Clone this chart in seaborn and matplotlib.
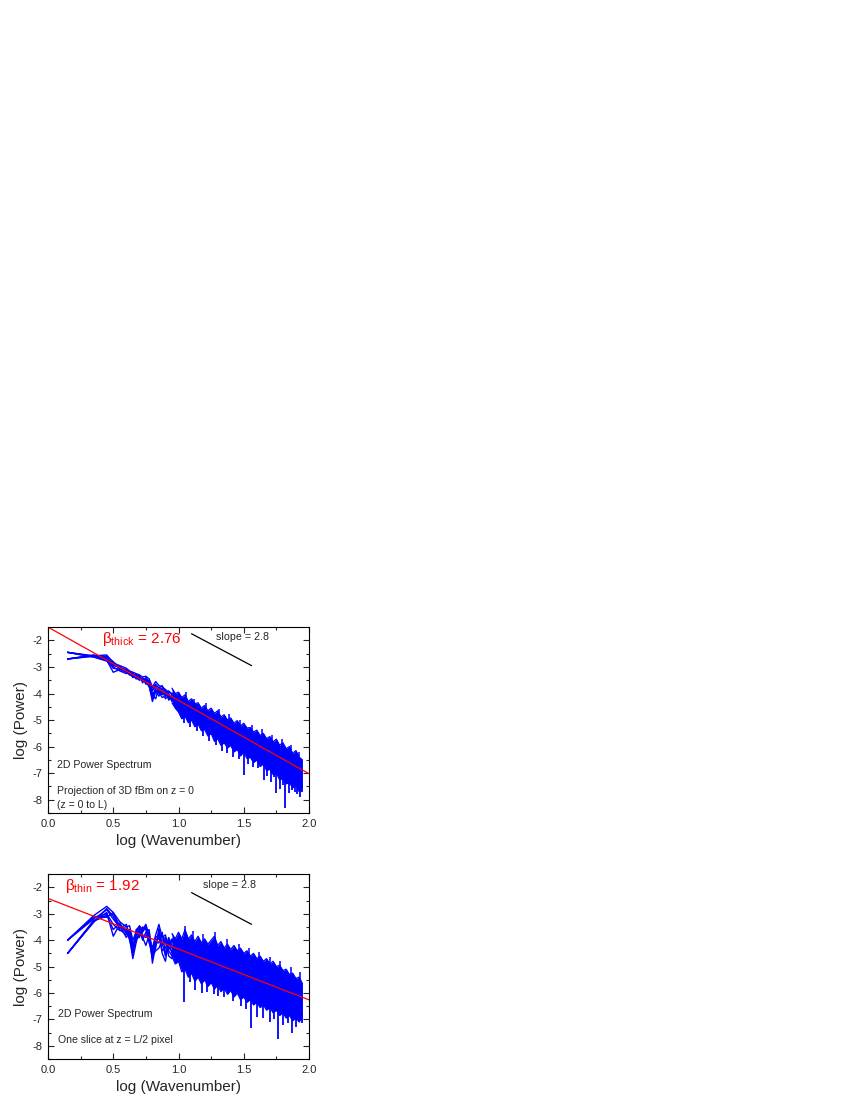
import numpy as np
import pandas as pd
import matplotlib
matplotlib.use("Agg")
import matplotlib.pyplot as plt
import seaborn as sns

# ---- data ----
x_low = [0.15, 0.35, 0.45, 0.50, 0.55, 0.60, 0.625, 0.65, 0.675, 0.70, 0.725,
         0.75, 0.775, 0.80, 0.825, 0.85, 0.875, 0.90, 0.925, 0.95, 0.975, 1.00]

thick_low = [
    [-2.45, -2.58, -2.55, -2.85, -2.95, -3.05, -3.15, -3.20, -3.25, -3.30, -3.38, -3.35, -3.45, -3.75, -3.55, -3.70, -3.75, -3.85, -3.95, -4.00, -4.05, -4.15],
    [-2.70, -2.60, -2.70, -2.95, -3.00, -3.15, -3.20, -3.25, -3.40, -3.35, -3.55, -3.50, -3.70, -4.30, -3.95, -3.85, -4.00, -3.95, -4.20, -4.10, -4.35, -4.30],
    [-2.45, -2.62, -2.75, -3.20, -3.10, -3.20, -3.30, -3.35, -3.30, -3.45, -3.45, -3.45, -3.60, -4.05, -4.20, -3.75, -3.90, -4.05, -4.00, -4.20, -4.25, -4.40],
    [-2.70, -2.55, -2.65, -2.90, -3.05, -3.10, -3.25, -3.30, -3.45, -3.40, -3.50, -3.60, -3.50, -3.90, -3.70, -3.95, -4.15, -4.10, -3.90, -4.05, -4.40, -4.25],
    [-2.45, -2.63, -2.78, -3.00, -3.15, -3.25, -3.18, -3.40, -3.35, -3.50, -3.45, -3.55, -3.75, -4.15, -3.85, -4.00, -3.80, -3.90, -4.15, -4.25, -4.10, -4.50],
    [-2.70, -2.58, -2.60, -2.80, -3.05, -3.10, -3.22, -3.25, -3.38, -3.30, -3.60, -3.40, -3.55, -3.80, -3.65, -3.80, -3.70, -4.00, -4.10, -4.15, -4.30, -4.35],
    [-2.45, -2.60, -2.68, -2.92, -2.98, -3.18, -3.28, -3.22, -3.42, -3.48, -3.40, -3.65, -3.62, -4.00, -3.90, -4.10, -3.85, -4.20, -4.05, -4.30, -4.15, -4.45],
    [-2.70, -2.56, -2.72, -3.05, -3.08, -3.12, -3.20, -3.38, -3.28, -3.42, -3.52, -3.48, -3.68, -4.20, -3.75, -3.90, -4.05, -3.88, -4.25, -4.08, -4.20, -4.30],
]

thin_low = [
    [-4.00, -3.07, -2.72, -2.95, -3.30, -3.50, -3.45, -4.00, -3.70, -3.45, -3.60, -3.40, -3.90, -4.30, -3.80, -3.40, -3.90, -3.80, -4.30, -4.00, -4.20, -4.10],
    [-4.50, -3.30, -2.95, -3.85, -3.40, -3.70, -3.90, -4.70, -4.10, -3.60, -4.00, -3.70, -3.60, -4.87, -4.20, -3.70, -4.40, -4.30, -3.90, -4.20, -4.60, -4.60],
    [-4.00, -3.10, -3.13, -2.95, -3.55, -3.40, -3.80, -4.40, -3.90, -3.90, -3.50, -3.60, -4.10, -4.50, -4.00, -3.95, -3.70, -4.50, -4.10, -4.50, -4.00, -4.40],
    [-4.50, -3.32, -2.80, -3.10, -3.60, -3.80, -3.60, -4.20, -3.80, -3.70, -3.90, -4.20, -3.80, -4.60, -4.40, -4.30, -4.00, -3.90, -4.60, -4.70, -4.30, -4.80],
    [-4.00, -3.15, -3.00, -3.40, -3.64, -3.60, -4.00, -4.50, -3.60, -3.50, -3.80, -3.90, -3.70, -4.40, -3.90, -3.80, -4.50, -4.80, -4.00, -4.30, -4.50, -4.50],
    [-4.50, -3.25, -3.10, -3.00, -3.45, -3.90, -3.70, -4.10, -4.00, -3.80, -3.70, -3.50, -4.00, -4.70, -4.10, -4.10, -3.80, -4.10, -4.40, -4.60, -4.10, -4.20],
    [-4.00, -3.20, -2.85, -3.20, -3.50, -3.55, -3.85, -4.30, -3.75, -3.55, -3.65, -3.45, -3.85, -4.55, -4.30, -3.55, -4.20, -4.00, -4.20, -3.95, -4.40, -4.30],
    [-4.50, -3.28, -3.05, -3.60, -3.35, -3.75, -3.65, -4.55, -3.85, -3.65, -3.85, -3.80, -3.95, -4.65, -4.05, -3.90, -4.10, -4.60, -4.30, -4.40, -4.25, -4.70],
]

x_high = [0.950, 0.975, 1.000, 1.025, 1.050, 1.075, 1.100, 1.125, 1.150, 1.175,
          1.200, 1.225, 1.250, 1.275, 1.300, 1.325, 1.350, 1.375, 1.400, 1.425,
          1.450, 1.475, 1.500, 1.525, 1.550, 1.575, 1.600, 1.625, 1.650, 1.675,
          1.700, 1.725, 1.750, 1.775, 1.800, 1.825, 1.850, 1.875, 1.900, 1.925, 1.950]

thick_upper = [-3.80, -4.00, -3.95, -4.15, -4.05, -4.30, -4.20, -4.38, -4.35, -4.55,
               -4.45, -4.65, -4.55, -4.75, -4.65, -4.88, -4.80, -5.00, -4.92, -5.12,
               -5.02, -5.22, -5.12, -5.30, -5.28, -5.45, -5.38, -5.58, -5.50, -5.70,
               -5.62, -5.82, -5.72, -5.95, -5.85, -6.08, -6.00, -6.25, -6.15, -6.40, -6.50]
thick_lower = [-4.35, -4.55, -4.70, -4.95, -4.85, -5.10, -5.00, -5.25, -5.15, -5.40,
               -5.35, -5.60, -5.50, -5.80, -5.70, -5.95, -5.85, -6.05, -5.95, -6.20,
               -6.10, -6.35, -6.20, -6.45, -6.40, -6.60, -6.50, -6.75, -6.65, -6.90,
               -6.85, -7.05, -7.00, -7.25, -7.20, -7.40, -7.35, -7.55, -7.45, -7.70, -7.50]
thick_down_x = [1.04, 1.09, 1.14, 1.19, 1.23, 1.29, 1.33, 1.37, 1.42, 1.46, 1.50, 1.53, 1.57, 1.61,
                1.655, 1.675, 1.71, 1.73, 1.75, 1.78, 1.80, 1.82, 1.845, 1.87, 1.89, 1.91, 1.93, 1.95]
thick_down_y = [-5.10, -5.25, -5.40, -5.60, -5.80, -5.95, -6.15, -6.25, -6.40, -6.45, -7.06, -6.65, -6.75, -6.80,
                -7.25, -7.10, -7.35, -7.15, -7.75, -7.60, -7.45, -8.30, -7.75, -7.65, -7.70, -7.80, -7.90, -7.70]
thick_up_x = [1.06, 1.12, 1.21, 1.31, 1.39, 1.47, 1.56, 1.64, 1.72, 1.79, 1.86, 1.92]
thick_up_y = [-3.95, -4.20, -4.35, -4.60, -4.78, -5.00, -5.18, -5.35, -5.58, -5.72, -5.95, -6.20]

thin_upper = [-3.75, -3.95, -3.70, -3.95, -3.60, -3.95, -3.80, -4.05, -3.85, -4.10,
              -3.95, -4.15, -4.00, -3.85, -4.20, -4.05, -4.30, -4.15, -4.35, -4.20,
              -4.40, -4.30, -4.50, -4.40, -4.60, -4.50, -4.70, -4.60, -4.80, -4.70,
              -4.90, -4.80, -5.00, -4.95, -5.15, -5.10, -5.30, -5.25, -5.45, -5.40, -5.65]
thin_lower = [-4.60, -4.90, -4.80, -5.20, -5.10, -5.40, -5.25, -5.55, -5.40, -5.65,
              -5.50, -5.75, -5.60, -5.85, -5.70, -5.95, -5.80, -6.05, -5.90, -6.15,
              -6.00, -6.25, -6.15, -6.35, -6.25, -6.45, -6.35, -6.55, -6.45, -6.65,
              -6.55, -6.75, -6.65, -6.85, -6.75, -6.95, -6.85, -7.05, -6.95, -7.10, -6.85]
thin_down_x = [1.045, 1.09, 1.13, 1.18, 1.22, 1.27, 1.30, 1.35, 1.42, 1.48, 1.52, 1.553,
               1.60, 1.65, 1.70, 1.73, 1.76, 1.80, 1.84, 1.867, 1.90, 1.944]
thin_down_y = [-6.34, -5.60, -5.90, -6.00, -5.95, -6.05, -6.10, -6.15, -6.30, -6.50, -6.60, -7.32,
               -6.90, -6.95, -7.10, -7.00, -7.75, -7.20, -7.15, -7.53, -7.30, -7.15]
thin_up_x = [1.05, 1.11, 1.19, 1.28, 1.37, 1.46, 1.54, 1.62, 1.70, 1.78, 1.86, 1.93]
thin_up_y = [-3.45, -3.65, -3.75, -3.70, -3.95, -4.15, -4.30, -4.45, -4.65, -4.80, -5.00, -5.20]

# fit lines: endpoints at x = 0 and x = 2
fit_x = [0.0, 2.0]
thick_fit = [-1.50, -7.02]
thin_fit = [-2.42, -6.26]

# slope = 2.8 guide segments
guide_x = [1.10, 1.56]
thick_guide_y = [-1.75, -2.95]
thin_guide_y = [-2.20, -3.40]

sns.set_style("ticks")
plt.rcParams['font.family'] = ['Liberation Sans', 'DejaVu Sans']
plt.rcParams['mathtext.fontset'] = 'custom'
plt.rcParams['mathtext.rm'] = 'Liberation Sans'
plt.rcParams['mathtext.it'] = 'Liberation Sans'

BLUE = '#0000ff'
RED = '#ff0000'

fig = plt.figure(figsize=(8.5, 11), dpi=100)
ax_top = fig.add_axes([0.0565, 0.2609, 0.307, 0.169])
ax_bot = fig.add_axes([0.0565, 0.0373, 0.307, 0.168])


def draw_panel(ax, low, upper, lower, dx, dy, ux, uy, fit_y, gy, beta_txt, beta_x, slope_x, slope_y, notes):
    rows = []
    for i, s in enumerate(low):
        for xv, yv in zip(x_low, s):
            rows.append({'x': xv, 'y': yv, 'series': i})
    df = pd.DataFrame(rows)
    sns.lineplot(data=df, x='x', y='y', units='series', estimator=None,
                 color=BLUE, lw=1.0, ax=ax, sort=False)

    # dense high-wavenumber part: filled band with jagged edges and spikes
    ax.fill_between(x_high, lower, upper, color=BLUE, lw=0)
    ax.plot(x_high, upper, color=BLUE, lw=0.9)
    ax.plot(x_high, lower, color=BLUE, lw=0.9)
    ax.vlines(dx, dy, np.interp(dx, x_high, lower) + 0.15, color=BLUE, lw=1.3)
    ax.vlines(ux, np.interp(ux, x_high, upper) - 0.15, uy, color=BLUE, lw=1.1)

    sns.lineplot(x=fit_x, y=fit_y, color=RED, lw=0.9, ax=ax)
    ax.plot(guide_x, gy, color='black', lw=0.9)

    ax.text(beta_x, -1.96, beta_txt, color=RED, fontsize=11, va='center', ha='left')
    ax.text(slope_x, slope_y, 'slope = 2.8', fontsize=7.7, va='center', ha='left')
    for tx, ty, t in notes:
        ax.text(tx, ty, t, fontsize=7.6, va='center', ha='left')

    ax.set_xlim(0.0, 2.0)
    ax.set_ylim(-8.5, -1.5)
    ax.set_xticks([0.0, 0.5, 1.0, 1.5, 2.0])
    ax.set_xticks([0.25, 0.75, 1.25, 1.75], minor=True)
    ax.set_yticks([-8, -7, -6, -5, -4, -3, -2])
    ax.set_yticks([-8.5, -7.5, -6.5, -5.5, -4.5, -3.5, -2.5], minor=True)
    ax.set_xticklabels(['0.0', '0.5', '1.0', '1.5', '2.0'])
    ax.set_yticklabels(['-8', '-7', '-6', '-5', '-4', '-3', '-2'])
    ax.tick_params(which='both', direction='in', top=True, right=True, labelsize=8, width=0.8)
    ax.tick_params(which='major', length=4, pad=4)
    ax.tick_params(which='minor', length=2.5)
    for sp in ax.spines.values():
        sp.set_linewidth(0.8)
        sp.set_color('black')
    ax.set_xlabel('log (Wavenumber)', fontsize=11, labelpad=4)
    ax.set_ylabel('log (Power)', fontsize=11, labelpad=3)


draw_panel(ax_top, thick_low, thick_upper, thick_lower, thick_down_x, thick_down_y,
           thick_up_x, thick_up_y, thick_fit, thick_guide_y,
           r'$\mathregular{\beta_{thick}}$ = 2.76', 0.41, 1.29, -1.88,
           [(0.067, -6.68, '2D Power Spectrum'),
            (0.067, -7.69, 'Projection of 3D fBm on z = 0'),
            (0.067, -8.19, '(z = 0 to L)')])

draw_panel(ax_bot, thin_low, thin_upper, thin_lower, thin_down_x, thin_down_y,
           thin_up_x, thin_up_y, thin_fit, thin_guide_y,
           r'$\mathregular{\beta_{thin}}$ = 1.92', 0.13, 1.185, -1.92,
           [(0.08, -6.80, '2D Power Spectrum'),
            (0.08, -7.80, 'One slice at z = L/2 pixel')])

fig.savefig('out.png', dpi=100)
